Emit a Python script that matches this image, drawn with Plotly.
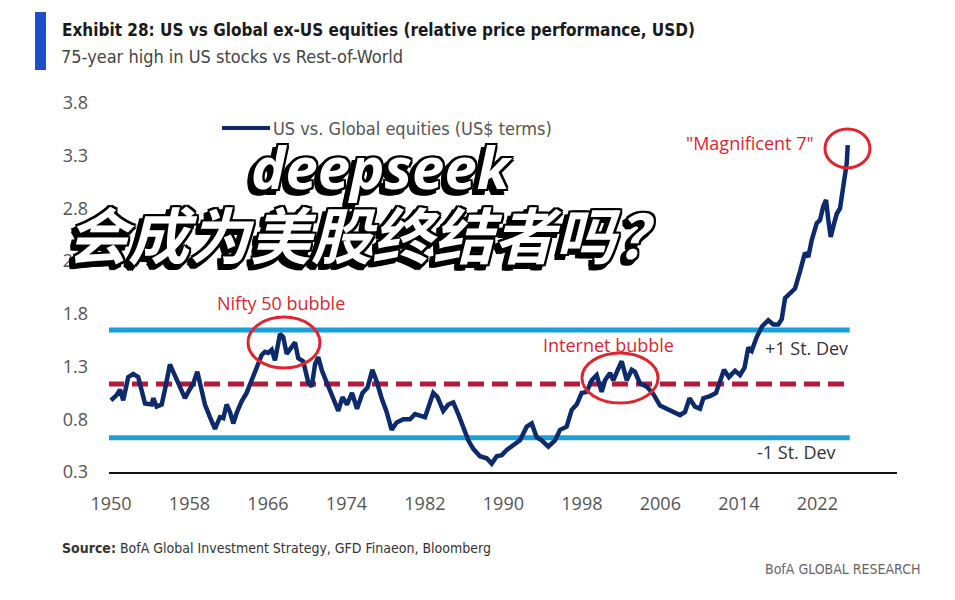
import plotly.graph_objects as go

# ---------------- data ----------------
YEARS = [1950.00, 1950.58, 1950.92, 1951.25, 1951.76, 1952.27, 1952.78, 1953.13, 1953.47, 1954.15,
         1954.31, 1954.66, 1955.17, 1955.50, 1956.01, 1956.35, 1956.70, 1957.03, 1957.54, 1957.88,
         1958.39, 1958.80, 1959.07, 1959.58, 1960.09, 1960.60, 1961.11, 1961.45, 1961.79, 1962.13,
         1962.47, 1962.81, 1963.32, 1963.83, 1964.34, 1964.85, 1965.36, 1965.70, 1966.03, 1966.38,
         1966.72, 1967.23, 1967.56, 1967.91, 1968.25, 1968.76, 1969.09, 1969.60, 1970.11, 1970.46,
         1970.80, 1971.13, 1971.51, 1971.92, 1972.32, 1972.73, 1973.17, 1973.60, 1974.06, 1974.57,
         1975.08, 1975.64, 1976.15, 1976.64, 1977.08, 1977.59, 1978.10, 1978.61, 1979.12, 1979.80,
         1980.48, 1980.99, 1981.50, 1982.01, 1982.42, 1982.85, 1983.28, 1983.87, 1984.38, 1984.89,
         1985.40, 1985.91, 1986.42, 1986.93, 1987.61, 1988.30, 1988.81, 1989.32, 1989.83, 1990.34,
         1991.01, 1991.69, 1992.38, 1992.89, 1993.39, 1993.90, 1994.58, 1995.26, 1995.77, 1996.45,
         1996.96, 1997.47, 1997.98, 1998.49, 1999.00, 1999.51, 2000.02, 2000.36, 2000.87, 2001.20,
         2001.71, 2002.06, 2002.57, 2003.08, 2003.41, 2003.92, 2004.61, 2005.28, 2005.96, 2006.65,
         2007.32, 2008.00, 2008.51, 2008.97, 2009.53, 2010.04, 2010.38, 2011.06, 2011.67, 2012.18,
         2012.49, 2012.99, 2013.61, 2014.12, 2014.58, 2014.96, 2015.31, 2015.82, 2016.36, 2017.00,
         2017.51, 2018.02, 2018.37, 2018.71, 2019.22, 2019.72, 2020.23, 2020.74, 2021.08, 2021.43,
         2021.94, 2022.27, 2022.61, 2022.89, 2023.12, 2023.36, 2023.63, 2023.98, 2024.31, 2024.59,
         2024.82, 2025.00, 2025.10]

RELATIVE = [0.98, 1.03, 1.08, 0.98, 1.20, 1.23, 1.20, 1.08, 0.95, 0.94,
            1.00, 0.92, 0.94, 1.08, 1.32, 1.25, 1.17, 1.10, 1.00, 1.06,
            1.14, 1.25, 1.14, 0.94, 0.82, 0.71, 0.82, 0.81, 0.94, 0.87,
            0.76, 0.86, 0.97, 1.05, 1.17, 1.30, 1.41, 1.44, 1.43, 1.46,
            1.36, 1.61, 1.58, 1.42, 1.46, 1.53, 1.38, 1.35, 1.15, 1.11,
            1.32, 1.39, 1.26, 1.17, 1.07, 1.00, 0.88, 1.01, 0.94, 1.05,
            0.90, 1.05, 1.10, 1.27, 1.16, 1.00, 0.87, 0.70, 0.77, 0.80,
            0.80, 0.85, 0.84, 0.82, 0.93, 1.05, 1.01, 0.88, 0.94, 0.96,
            0.85, 0.72, 0.60, 0.52, 0.45, 0.43, 0.38, 0.45, 0.46, 0.51,
            0.56, 0.60, 0.73, 0.76, 0.63, 0.60, 0.54, 0.60, 0.70, 0.73,
            0.89, 0.94, 1.05, 1.06, 1.17, 1.22, 1.06, 1.17, 1.24, 1.17,
            1.28, 1.35, 1.17, 1.27, 1.25, 1.14, 1.11, 1.04, 0.93, 0.90,
            0.88, 0.84, 0.87, 1.00, 0.92, 0.90, 1.00, 1.02, 1.05, 1.17,
            1.27, 1.20, 1.26, 1.22, 1.29, 1.48, 1.45, 1.58, 1.68, 1.74,
            1.70, 1.70, 1.75, 1.95, 1.99, 2.04, 2.20, 2.38, 2.34, 2.50,
            2.66, 2.69, 2.82, 2.88, 2.69, 2.53, 2.63, 2.75, 2.80, 2.98,
            3.07, 3.23, 3.40]
assert len(YEARS) == len(RELATIVE)

MEAN = 1.135
STD = 0.511
BAND_START = 1949.7
BAND_END = 2025.3

X_TICKS = [1950, 1958, 1966, 1974, 1982, 1990, 1998, 2006, 2014, 2022]
Y_TICKS = [0.3, 0.8, 1.3, 1.8, 2.3, 2.8, 3.3, 3.8]

SERIES_NAME = "US vs. Global equities (US$ terms)"
TITLE = "Exhibit 28: US vs Global ex-US equities (relative price performance, USD)"
SUBTITLE = "75-year high in US stocks vs Rest-of-World"
SOURCE = "<b>Source:</b> BofA Global Investment Strategy, GFD Finaeon, Bloomberg"
BRAND = "BofA GLOBAL RESEARCH"
OVERLAY_1 = "deepseek"
OVERLAY_2 = "会成为美股终结者吗？"

# ---------------- styles ----------------
NAVY = "#0c2a6c"
SKY = "#1b9fd9"
CRIMSON = "#b51a3c"
RED = "#e0252f"
GREY = "#555555"
NARROW = "Liberation Sans Narrow, DejaVu Sans Condensed, Arial Narrow, sans-serif"
TICKFONT = "Open Sans, Liberation Sans, sans-serif"

# plot area in pixels
L, R, T, B = 109, 58, 95, 128
W, H = 955, 600
PW, PH = W - L - R, H - T - B
X_RANGE = [1949.8, 2030.12]
Y_RANGE = [0.3, 3.876]


def px(xpix):
    return (xpix - L) / PW


def py(ypix):
    return (H - B - ypix) / PH


fig = go.Figure()

# +/- 1 st. dev bands
fig.add_trace(go.Scatter(x=[BAND_START, BAND_END], y=[MEAN + STD, MEAN + STD], mode="lines",
                         line=dict(color=SKY, width=5), showlegend=False, hoverinfo="skip"))
fig.add_trace(go.Scatter(x=[BAND_START, BAND_END], y=[MEAN - STD, MEAN - STD], mode="lines",
                         line=dict(color=SKY, width=5), showlegend=False, hoverinfo="skip"))
# mean (dashed)
fig.add_trace(go.Scatter(x=[BAND_START, BAND_END], y=[MEAN, MEAN], mode="lines",
                         line=dict(color=CRIMSON, width=5, dash="16px,8px"),
                         showlegend=False, hoverinfo="skip"))
# main series
fig.add_trace(go.Scatter(x=YEARS, y=RELATIVE, mode="lines", name=SERIES_NAME,
                         line=dict(color=NAVY, width=4.5), showlegend=False))

shapes = []
# title accent bar
shapes.append(dict(type="rect", xref="paper", yref="paper",
                   x0=px(35), x1=px(46), y0=py(70), y1=py(12),
                   fillcolor="#1f4fc4", line=dict(width=0), layer="above"))
# manual legend sample
shapes.append(dict(type="line", xref="paper", yref="paper",
                   x0=px(222), x1=px(270), y0=py(128), y1=py(128),
                   line=dict(color=NAVY, width=4)))
# ellipses
for (x0, x1, y0, y1) in [(1963.97, 1971.30, 1.287, 1.77),
                         (1998.01, 2005.76, 0.955, 1.429),
                         (2022.78, 2027.36, 3.184, 3.554)]:
    shapes.append(dict(type="circle", xref="x", yref="y", x0=x0, x1=x1, y0=y0, y1=y1,
                       line=dict(color=RED, width=3)))

annotations = []


def ann(text, x, y, size, color, family, xanchor="center", yanchor="middle",
        xref="paper", yref="paper", **kw):
    annotations.append(dict(text=text, x=x, y=y, xref=xref, yref=yref, showarrow=False,
                            xanchor=xanchor, yanchor=yanchor,
                            font=dict(size=size, color=color, family=family, **kw)))


ann(f"<b>{TITLE}</b>", px(60), py(30), 17, "#1a1a1a", NARROW, xanchor="left")
ann(SUBTITLE, px(59), py(57), 18, "#444444", NARROW, xanchor="left")
ann(SERIES_NAME, px(271), py(128), 18, GREY, NARROW, xanchor="left")
ann("Nifty 50 bubble", 1967.3, 1.90, 18, RED, TICKFONT, xref="x", yref="y")
ann("Internet bubble", 2000.7, 1.50, 18, RED, TICKFONT, xref="x", yref="y")
ann('"Magnificent 7"', px(750), py(143), 18, RED, TICKFONT)
ann("+1 St. Dev", px(806), py(348), 18, "#333333", TICKFONT)
ann("-1 St. Dev", px(796), py(452), 18, "#333333", TICKFONT)
ann(SOURCE, px(60), py(548), 14, "#333333", NARROW, xanchor="left")
ann(BRAND, px(922), py(569), 14, "#666666", NARROW, xanchor="right")

outline = ", ".join(f"{dx}px {dy}px 0 #000" for dx, dy in
                    [(2, 0), (-2, 0), (0, 2), (0, -2), (2, 2), (-2, 2), (2, -2), (-2, -2)])
shadow_off = ", ".join(f"{dx - 4}px {dy + 4}px 0 #000" for dx, dy in
                       [(0, 0), (2, 0), (-2, 0), (0, 2), (0, -2), (2, 2), (-2, 2), (2, -2), (-2, -2)])
OUTLINE = outline + ", " + shadow_off

ann(f"<b><i>{OVERLAY_1}</i></b>", px(382), py(166), 58, "#ffffff",
    "Noto Sans, Open Sans, sans-serif", shadow=OUTLINE)
ann(f"<b><i>{OVERLAY_2}</i></b>", px(372), py(232), 61, "#ffffff",
    "Noto Sans CJK SC, sans-serif", shadow=OUTLINE, weight=900)

fig.update_layout(
    width=W, height=H,
    margin=dict(l=L, r=R, t=T, b=B, pad=0),
    paper_bgcolor="white", plot_bgcolor="white",
    shapes=shapes, annotations=annotations,
    xaxis=dict(range=X_RANGE, tickvals=X_TICKS, showgrid=False, zeroline=False,
               showline=True, linecolor="#111111", linewidth=2, ticks="",
               ticklabelstandoff=14,
               tickfont=dict(family=TICKFONT, size=18, color=GREY), fixedrange=True),
    yaxis=dict(range=Y_RANGE, tickvals=Y_TICKS, tickformat=".1f", showgrid=False,
               zeroline=False, showline=False, ticks="", ticklabelstandoff=20,
               tickfont=dict(family=TICKFONT, size=18, color=GREY), fixedrange=True),
    showlegend=False,
)

fig.write_html("out.html")
